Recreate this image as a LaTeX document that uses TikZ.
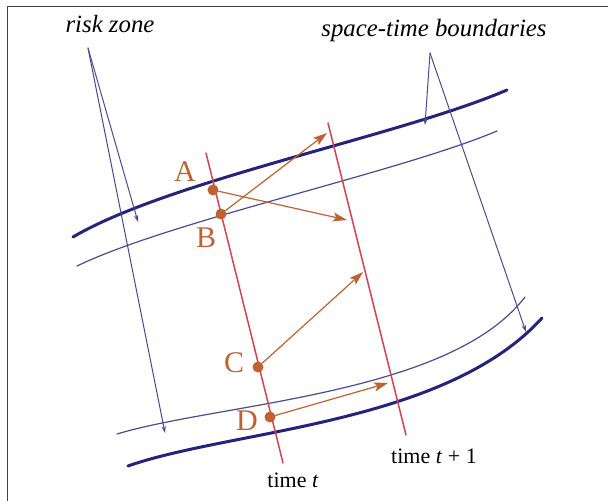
\documentclass[tikz,border=0pt]{standalone}
\usepackage{fontspec}
\setmainfont{Liberation Serif}
\usetikzlibrary{arrows.meta}
\definecolor{navy}{HTML}{24247C}
\definecolor{zoneblue}{HTML}{4A4A96}
\definecolor{timered}{HTML}{D8424E}
\definecolor{rust}{HTML}{C0622F}
\tikzset{
  boundary/.style={draw=navy,line width=1.5pt},
  zoneline/.style={draw=zoneblue,line width=0.6pt},
  pointer/.style={draw=zoneblue,line width=0.5pt,-{Stealth[length=3.5pt,width=2.2pt]}},
  timeline/.style={draw=timered,line width=0.75pt},
  motion/.style={draw=rust,line width=0.6pt,-{Stealth[length=7pt,width=4.5pt,inset=1.5pt]}},
  statedot/.style={circle,fill=rust,inner sep=0pt,minimum size=5.5pt},
  ptlabel/.style={text=rust,font=\fontsize{15}{15}\selectfont},
  caption/.style={anchor=base,font=\fontsize{12.4}{14}\selectfont\itshape},
  timelabel/.style={anchor=base,font=\fontsize{11}{13}\selectfont}
}

\begin{document}
\begin{tikzpicture}[x=0.5pt,y=-0.5pt,line cap=round,line join=round,every node/.style={inner sep=1pt}]
  \useasboundingbox (0,0) rectangle (608,501);
  \draw[line width=0.5pt,black!75] (7,501) -- (7,7) -- (608,7);
  % boundaries and zone edges
  \draw[boundary] (73,237) .. controls (170,180) and (400,136) .. (507,90);
  \draw[zoneline] (77,266) .. controls (170,221) and (400,172) .. (497,131);
  \draw[zoneline] (117,434) .. controls (220,403) and (450,395) .. (525,297);
  \draw[boundary] (128,466) .. controls (230,430) and (445,425) .. (542,318);
  % time lines
  \coordinate (t0top) at (206,153);
  \coordinate (t0bot) at (283,463);
  \coordinate (t1top) at (328,123);
  \coordinate (t1bot) at (406,435);
  \draw[timeline] (t0top) -- (t0bot);
  \draw[timeline] (t1top) -- (t1bot);
  \node[timelabel] (tt) at (293,487) {time \textit{t}};
  \node[timelabel] (tt1) at (434,463) {time \textit{t} + 1};
  % states
  \node[statedot] (A) at (213,190) {};
  \node[statedot] (B) at (221,214) {};
  \node[statedot] (C) at (258,367) {};
  \node[statedot] (D) at (270,417) {};
  \node[ptlabel] (lA) at (185,172) {A};
  \node[ptlabel] (lB) at (206,238) {B};
  \node[ptlabel] (lC) at (234,363) {C};
  \node[ptlabel] (lD) at (247,421) {D};
  \coordinate (nA) at (347,220);
  \coordinate (nB) at (327,133);
  \coordinate (nC) at (363,272);
  \coordinate (nD) at (388,383);
  \draw[motion] (A) -- (nA);
  \draw[motion] (B) -- (nB);
  \draw[motion] (C) -- (nC);
  \draw[motion] (D) -- (nD);
  % captions with pointers
  \node[caption] (risk) at (110,33) {risk zone};
  \node[caption] (stb) at (434,37) {space-time boundaries};
  \coordinate (rsrc) at (88,48);
  \coordinate (rup) at (138,222);
  \coordinate (rlow) at (165,433);
  \coordinate (ssrc) at (430,53);
  \coordinate (sup1) at (425,125);
  \coordinate (slow) at (526,332);
  \draw[pointer] (rsrc) -- (rup);
  \draw[pointer] (rsrc) -- (rlow);
  \draw[pointer] (ssrc) -- (sup1);
  \draw[pointer] (ssrc) -- (slow);
\end{tikzpicture}
\end{document}
